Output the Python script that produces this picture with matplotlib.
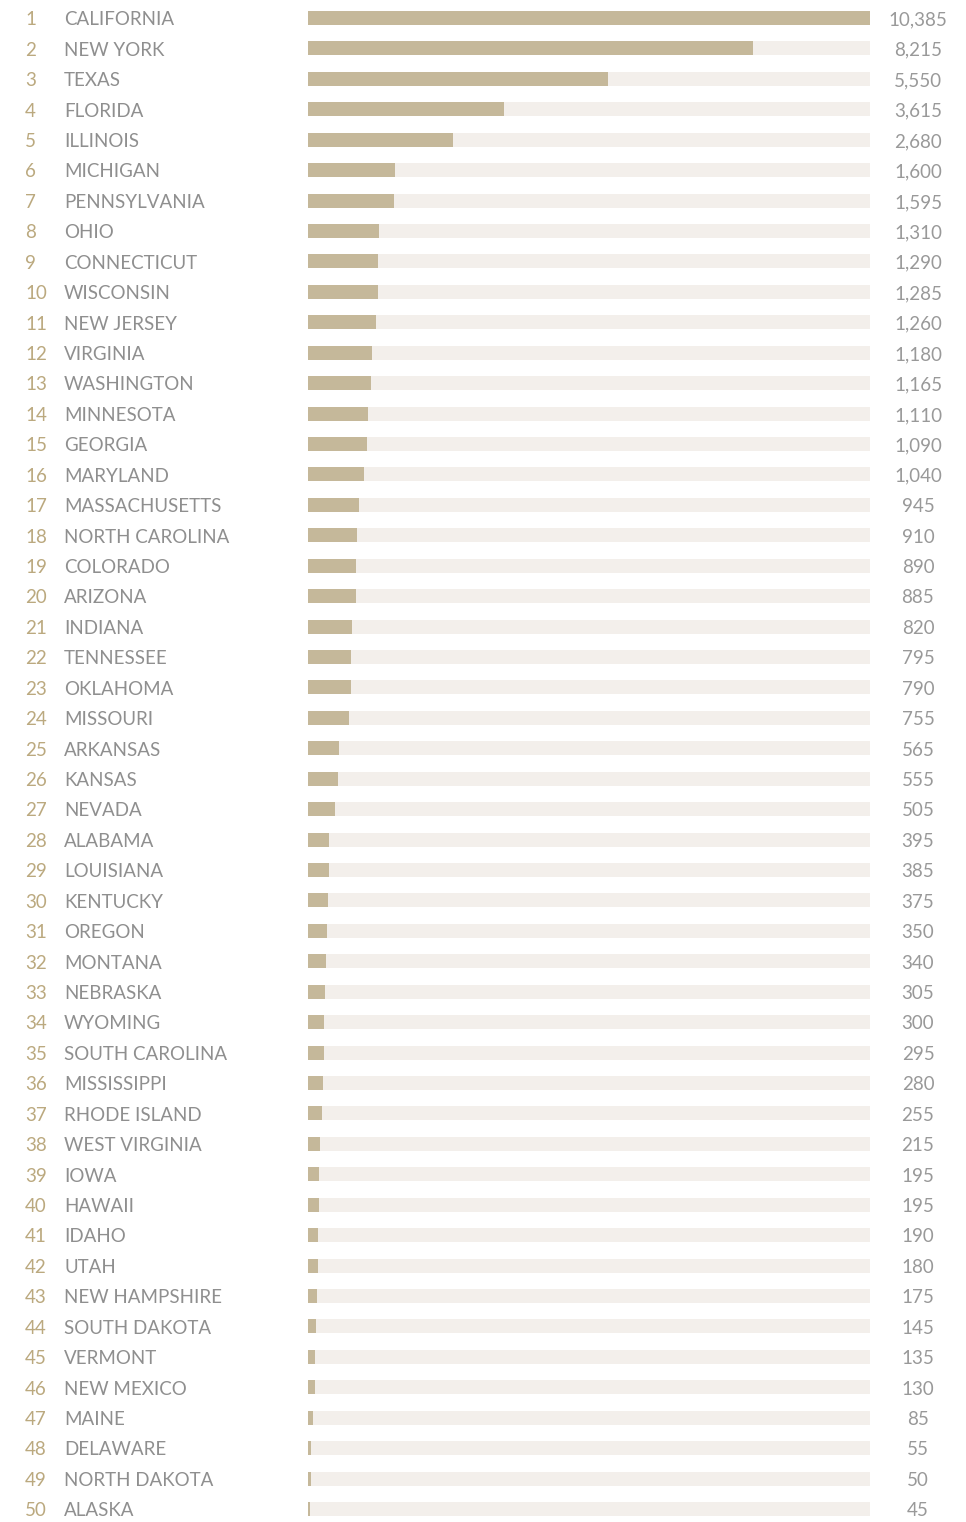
import matplotlib.pyplot as plt
from matplotlib.transforms import blended_transform_factory

states = ["CALIFORNIA", "NEW YORK", "TEXAS", "FLORIDA", "ILLINOIS", "MICHIGAN",
          "PENNSYLVANIA", "OHIO", "CONNECTICUT", "WISCONSIN", "NEW JERSEY", "VIRGINIA",
          "WASHINGTON", "MINNESOTA", "GEORGIA", "MARYLAND", "MASSACHUSETTS",
          "NORTH CAROLINA", "COLORADO", "ARIZONA", "INDIANA", "TENNESSEE", "OKLAHOMA",
          "MISSOURI", "ARKANSAS", "KANSAS", "NEVADA", "ALABAMA", "LOUISIANA", "KENTUCKY",
          "OREGON", "MONTANA", "NEBRASKA", "WYOMING", "SOUTH CAROLINA", "MISSISSIPPI",
          "RHODE ISLAND", "WEST VIRGINIA", "IOWA", "HAWAII", "IDAHO", "UTAH",
          "NEW HAMPSHIRE", "SOUTH DAKOTA", "VERMONT", "NEW MEXICO", "MAINE", "DELAWARE",
          "NORTH DAKOTA", "ALASKA"]
values = [10385, 8215, 5550, 3615, 2680, 1600, 1595, 1310, 1290, 1285, 1260, 1180,
          1165, 1110, 1090, 1040, 945, 910, 890, 885, 820, 795, 790, 755, 565, 555,
          505, 395, 385, 375, 350, 340, 305, 300, 295, 280, 255, 215, 195, 195, 190,
          180, 175, 145, 135, 130, 85, 55, 50, 45]
ranks = list(range(1, len(states) + 1))

W, H = 966, 1522
fig = plt.figure(figsize=(W / 100, H / 100), dpi=100)
ax = fig.add_axes([308 / W, 0, (870 - 308) / W, 1])

vmax = max(values)
ax.barh(ranks, [vmax] * len(ranks), height=0.46, color="#f3efeb", linewidth=0)
ax.barh(ranks, values, height=0.46, color="#c5b89a", linewidth=0)

ax.set_xlim(0, vmax)
ax.set_ylim(50 + 13 / 30.43, 1 - 18 / 30.43)
ax.axis("off")

tr = blended_transform_factory(fig.transFigure, ax.transData)
font = "Lato"
dy = 0.06  # nudge text down a touch
for r, name, v in zip(ranks, states, values):
    ax.text(25 / W, r + dy, str(r), transform=tr, ha="left", va="center",
            fontsize=13.5, color="#bba97f", family=font)
    ax.text(64 / W, r + dy, name, transform=tr, ha="left", va="center",
            fontsize=13.5, color="#8f8f8f", family=font)
    ax.text(918 / W, r + dy, f"{v:,}", transform=tr, ha="center", va="center",
            fontsize=13.5, color="#999999", family=font)

fig.savefig("out.png", dpi=100, facecolor="white")
